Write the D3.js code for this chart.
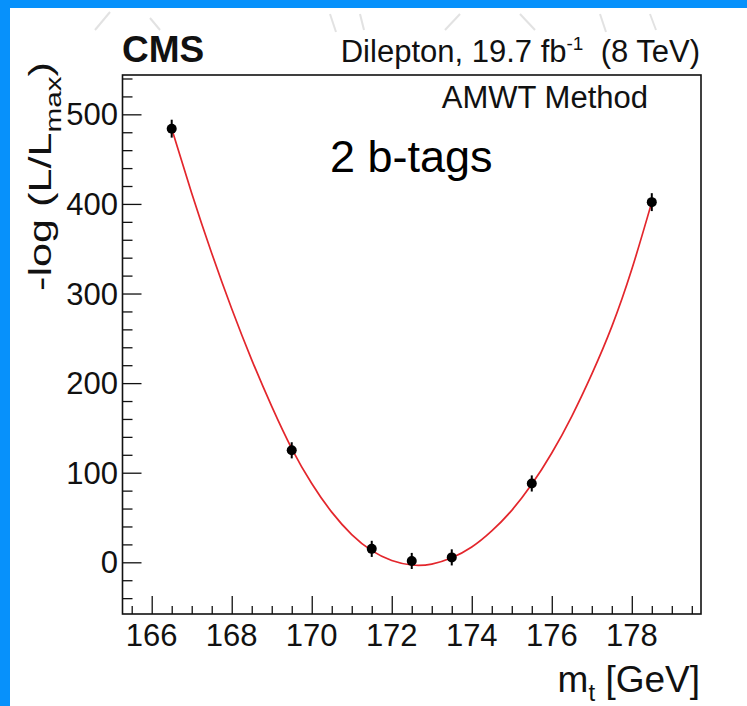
<!DOCTYPE html>
<html>
<head>
<meta charset="utf-8">
<script src="https://cdn.jsdelivr.net/npm/d3@7"></script>
<style>
  body { margin: 0; background: #0791fb; }
  text { font-family: "Liberation Sans", Arial, Helvetica, sans-serif; fill: #111; }
</style>
</head>
<body>
<div id="chart"></div>
<script>
// data
const massPoints = [166.5, 169.5, 171.5, 172.5, 173.5, 175.5, 178.5];
const nllValues = [484, 125, 15, 1.5, 5.5, 88, 402];
const nllErrors = [10, 9, 9, 9, 9, 9, 10];

// red fit curve, read every 0.5 GeV
const curveMass = [166.5, 167, 167.5, 168, 168.5, 169, 169.5, 170, 170.5, 171, 171.5, 172,
  172.5, 173, 173.5, 174, 174.5, 175, 175.5, 176, 176.5, 177, 177.5, 178, 178.5];
const curveNll = [484, 412, 345, 283, 226, 174, 127, 88, 56, 31, 13, 2,
  -3, -2, 5, 17, 35, 58, 87, 122, 163, 210, 263, 327, 402];

const xTicks = [166, 168, 170, 172, 174, 176, 178];
const yTicks = [0, 100, 200, 300, 400, 500];

const width = 747,
  height = 706;

const frame = { left: 122.5, right: 701, top: 75, bottom: 614 };

const svg = d3
  .select("#chart")
  .append("svg")
  .attr("width", width)
  .attr("height", height);

// slide background
svg.append("rect").attr("x", 0).attr("y", 0).attr("width", width).attr("height", height).attr("fill", "#0791fb");
svg.append("rect").attr("x", 10).attr("y", 8).attr("width", width - 10).attr("height", height - 8).attr("fill", "#fff");

// faint decoration strokes at the top of the slide
const deco = [[95, 30, 110, 12], [150, 18, 160, 30], [330, 14, 336, 32], [360, 14, 364, 30], [445, 30, 460, 14], [520, 14, 535, 30], [600, 14, 606, 32], [650, 14, 656, 30]];
svg.append("g")
  .selectAll("line")
  .data(deco)
  .join("line")
  .attr("x1", d => d[0]).attr("y1", d => d[1])
  .attr("x2", d => d[2]).attr("y2", d => d[3])
  .attr("stroke", "#e2e2e2")
  .attr("stroke-width", 2);

const x = d3.scaleLinear().domain([165.27, 179.73]).range([frame.left, frame.right]);
const y = d3.scaleLinear().domain([-57.7, 543.9]).range([frame.bottom, frame.top]);

// x axis: major every 2, minor every 0.5
const xMinor = d3.range(165.5, 179.6, 0.5).filter(v => !xTicks.includes(v));
svg.append("g")
  .attr("transform", `translate(0,${frame.bottom})`)
  .call(d3.axisTop(x).tickValues(xMinor).tickSize(8).tickFormat(""))
  .call(g => g.select(".domain").remove())
  .call(g => g.selectAll("line").attr("stroke", "#111").attr("stroke-width", 1.3));

svg.append("g")
  .attr("transform", `translate(0,${frame.bottom})`)
  .call(d3.axisTop(x).tickValues(xTicks).tickSize(18).tickFormat(""))
  .call(g => g.select(".domain").remove())
  .call(g => g.selectAll("line").attr("stroke", "#111").attr("stroke-width", 1.3));

svg.append("g")
  .selectAll("text")
  .data(xTicks)
  .join("text")
  .attr("x", d => x(d))
  .attr("y", 646)
  .attr("text-anchor", "middle")
  .style("font-size", "31px")
  .text(d => d);

// y axis: major every 100, minor every 20
const yMinor = d3.range(-40, 541, 20).filter(v => !yTicks.includes(v));
svg.append("g")
  .attr("transform", `translate(${frame.left},0)`)
  .call(d3.axisRight(y).tickValues(yMinor).tickSize(10).tickFormat(""))
  .call(g => g.select(".domain").remove())
  .call(g => g.selectAll("line").attr("stroke", "#111").attr("stroke-width", 1.3));

svg.append("g")
  .attr("transform", `translate(${frame.left},0)`)
  .call(d3.axisRight(y).tickValues(yTicks).tickSize(19).tickFormat(""))
  .call(g => g.select(".domain").remove())
  .call(g => g.selectAll("line").attr("stroke", "#111").attr("stroke-width", 1.3));

svg.append("g")
  .selectAll("text")
  .data(yTicks)
  .join("text")
  .attr("x", 118)
  .attr("y", d => y(d) + 11)
  .attr("text-anchor", "end")
  .style("font-size", "31px")
  .text(d => d);

// frame
svg.append("rect")
  .attr("x", frame.left)
  .attr("y", frame.top)
  .attr("width", frame.right - frame.left)
  .attr("height", frame.bottom - frame.top)
  .attr("fill", "none")
  .attr("stroke", "#111")
  .attr("stroke-width", 1.6);

// fit curve
const line = d3.line()
  .x((d, i) => x(curveMass[i]))
  .y(d => y(d))
  .curve(d3.curveNatural);

svg.append("path")
  .datum(curveNll)
  .attr("d", line)
  .attr("fill", "none")
  .attr("stroke", "#e3262c")
  .attr("stroke-width", 1.7);

// points with error bars
const pts = svg.append("g")
  .selectAll("g")
  .data(nllValues)
  .join("g");

pts.append("line")
  .attr("x1", (d, i) => x(massPoints[i]))
  .attr("x2", (d, i) => x(massPoints[i]))
  .attr("y1", (d, i) => y(d - nllErrors[i]))
  .attr("y2", (d, i) => y(d + nllErrors[i]))
  .attr("stroke", "#000")
  .attr("stroke-width", 2);

pts.append("circle")
  .attr("cx", (d, i) => x(massPoints[i]))
  .attr("cy", d => y(d))
  .attr("r", 5)
  .attr("fill", "#000");

// header texts
svg.append("text")
  .attr("x", 122)
  .attr("y", 62)
  .style("font-size", "37px")
  .style("font-weight", "bold")
  .text("CMS");

const lumi = svg.append("text")
  .attr("x", 700)
  .attr("y", 62)
  .attr("text-anchor", "end")
  .style("font-size", "31px");
lumi.append("tspan").text("Dilepton, 19.7 fb");
lumi.append("tspan").attr("dy", -12).style("font-size", "19px").text("-1");
lumi.append("tspan").attr("dy", 12).text("\u00a0 (8 TeV)");

svg.append("text")
  .attr("x", 648)
  .attr("y", 108)
  .attr("text-anchor", "end")
  .style("font-size", "31px")
  .text("AMWT Method");

svg.append("text")
  .attr("x", 330)
  .attr("y", 172)
  .style("font-size", "45px")
  .style("fill", "#000")
  .text("2 b-tags");

// axis titles
const xTitle = svg.append("text")
  .attr("x", 700)
  .attr("y", 692)
  .attr("text-anchor", "end")
  .style("font-size", "37px");
xTitle.append("tspan").text("m");
xTitle.append("tspan").attr("dy", 9).style("font-size", "24px").text("t");
xTitle.append("tspan").attr("dy", -9).text(" [GeV]");

// rotated title, stretched along its length like in the picture
const yTitle = svg.append("text")
  .attr("transform", "translate(51,62) rotate(-90) scale(1.35,1)")
  .attr("text-anchor", "end")
  .style("font-size", "32px");
yTitle.append("tspan").text("-log (L/L");
yTitle.append("tspan").attr("dy", 10).style("font-size", "22px").text("max");
yTitle.append("tspan").attr("dy", -10).text(")");
</script>
</body>
</html>
